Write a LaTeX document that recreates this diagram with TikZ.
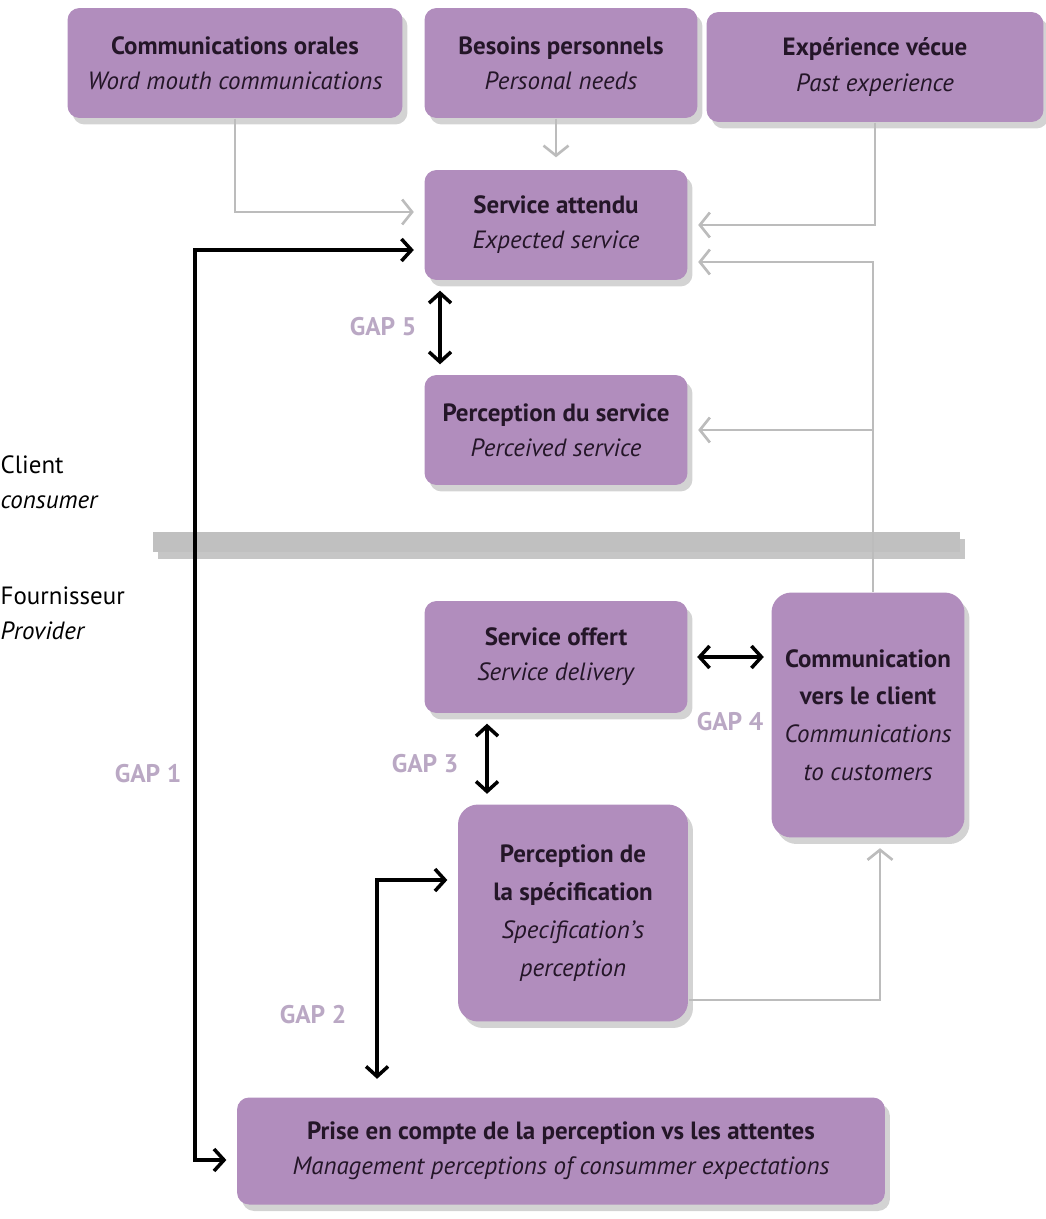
\documentclass[tikz,border=0pt]{standalone}
\usepackage{fontspec}
\setmainfont{PT Sans}
\usetikzlibrary{arrows.meta,shadows}

\definecolor{boxfill}{RGB}{177,141,189}
\definecolor{boxtext}{RGB}{36,22,40}
\definecolor{gapcol}{RGB}{186,168,196}
\definecolor{linegrey}{RGB}{188,188,188}
\definecolor{barfill}{RGB}{192,192,192}

\begin{document}
\begin{tikzpicture}[x=0.02cm, y=-0.02cm, thick]
    \tikzstyle{box}=[rounded corners=0.24cm, fill=boxfill, text=boxtext, align=center,
        font=\fontsize{14.2}{20}\selectfont, inner sep=2pt,
        drop shadow={shadow xshift=0.1cm, shadow yshift=-0.13cm, opacity=0.35}]
    \tikzstyle{greyarrow}=[draw=linegrey, line width=1.5pt, -{Straight Barb[length=0.2cm, width=0.5cm]}, shorten >=0.2cm]
    \tikzstyle{gaparrow}=[draw=black, line width=2pt, {Straight Barb[length=0.2cm, width=0.44cm]}-{Straight Barb[length=0.2cm, width=0.44cm]}]
    \tikzstyle{gaplabel}=[text=gapcol, font=\fontsize{14.5}{16}\selectfont\bfseries]
    \tikzstyle{side}=[anchor=west, align=left, inner sep=0pt, font=\fontsize{14.2}{20}\selectfont]

    \useasboundingbox (0,0) rectangle (1045,1219);

    % client / provider split
    \fill[barfill, drop shadow={shadow xshift=0.1cm, shadow yshift=-0.14cm, opacity=0.45}] (153,532) rectangle (960,552);
    \node[side] (client) at (0,482) {Client\\\textit{consumer}};
    \node[side] (prov) at (0,613) {Fournisseur\\\textit{Provider}};

    % boxes
    \node[box, minimum width=6.7cm, minimum height=2.2cm] (co) at (235,63) {\textbf{Communications orales}\\\textit{Word mouth communications}};
    \node[box, minimum width=5.46cm, minimum height=2.2cm] (bp) at (561,63) {\textbf{Besoins personnels}\\\textit{Personal needs}};
    \node[box, minimum width=6.74cm, minimum height=2.2cm] (ev) at (875,67) {\textbf{Expérience vécue}\\\textit{Past experience}};
    \node[box, minimum width=5.26cm, minimum height=2.2cm] (sa) at (556,225) {\textbf{Service attendu}\\\textit{Expected service}};
    \node[box, minimum width=5.26cm, minimum height=2.2cm] (ps) at (556,430) {\textbf{Perception du service}\\\textit{Perceived service}};
    \node[box, minimum width=5.26cm, minimum height=2.24cm] (so) at (556,657) {\textbf{Service offert}\\\textit{Service delivery}};
    \node[box, rounded corners=0.4cm, minimum width=3.86cm, minimum height=4.9cm, font=\fontsize{14.2}{21.5}\selectfont] (cc) at (868,715) {\textbf{Communication}\\\textbf{vers le client}\\\textit{Communications}\\\textit{to customers}};
    \node[box, rounded corners=0.4cm, minimum width=4.6cm, minimum height=4.34cm, font=\fontsize{14.2}{21.5}\selectfont] (spec) at (573,913) {\textbf{Perception de}\\\textbf{la spécification}\\\textit{Specification's}\\\textit{perception}};
    \node[box, minimum width=12.96cm, minimum height=2.14cm] (pc) at (561,1151) {\textbf{Prise en compte de la perception vs les attentes}\\\textit{Management perceptions of consummer expectations}};

    % grey influences
    \draw[greyarrow] (co.south) |- ([yshift=0.26cm]sa.west);
    \draw[greyarrow, shorten >=0.24cm] (bp.south -| sa.north) -- (sa.north);
    \draw[greyarrow] (ev.south) |- (sa.east);
    \draw[greyarrow] ([xshift=0.1cm]cc.north) |- ([yshift=-0.74cm]sa.east);
    \draw[greyarrow] ([xshift=0.1cm]cc.north) |- (ps.east);
    \draw[greyarrow] ([yshift=-1.74cm]spec.east) -| ([xshift=0.24cm]cc.south);

    % gaps
    \coordinate (g1) at (195,700);
    \draw[gaparrow, shorten <=0.2cm, shorten >=0.2cm] ([yshift=-0.5cm]sa.west) -| (g1) |- ([yshift=-0.18cm]pc.west);
    \node[gaplabel] (gap1) at (148,774) {GAP 1};

    \draw[gaparrow, shorten <=0.2cm, shorten >=0.36cm] ([yshift=0.66cm]spec.west) -| ([xshift=-3.68cm]pc.north);
    \node[gaplabel] (gap2) at (313,1015) {GAP 2};

    \draw[gaparrow, shorten <=0.2cm, shorten >=0.2cm] ([xshift=-1.38cm]so.south) -- ([xshift=-1.38cm]so.south |- spec.north);
    \node[gaplabel] (gap3) at (425,764) {GAP 3};

    \draw[gaparrow, shorten <=0.18cm, shorten >=0.14cm] (so.east) -- (cc.west |- so.east);
    \node[gaplabel] (gap4) at (730,722) {GAP 4};

    \draw[gaparrow, shorten <=0.2cm, shorten >=0.2cm] ([xshift=-2.32cm]sa.south) -- ([xshift=-2.32cm]ps.north);
    \node[gaplabel] (gap5) at (383,327) {GAP 5};
\end{tikzpicture}
\end{document}
